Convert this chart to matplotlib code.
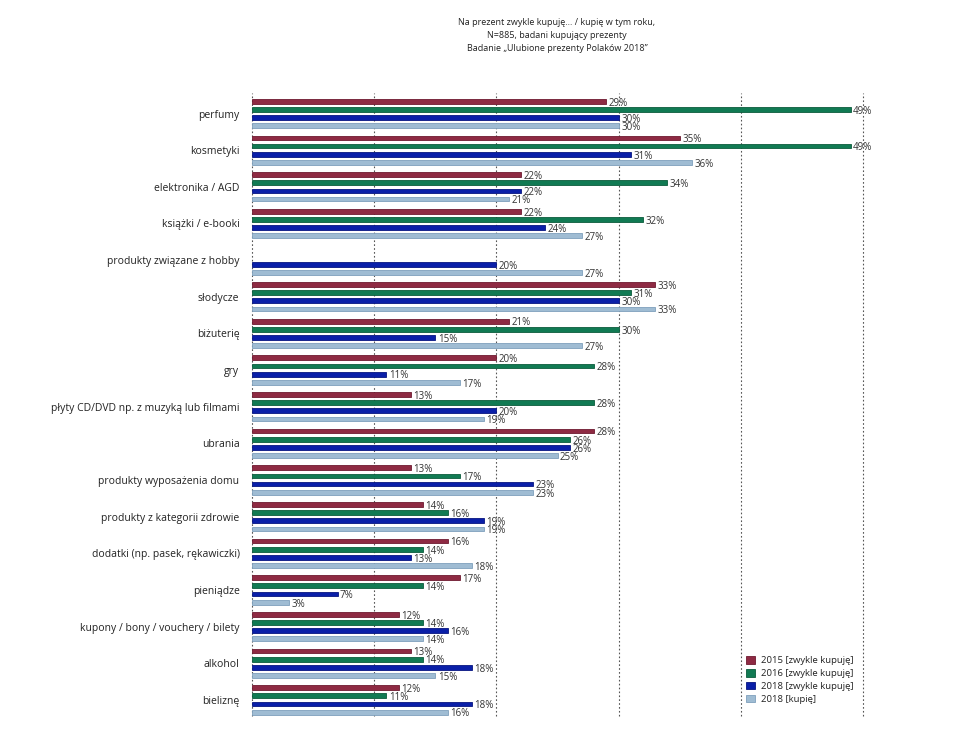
import numpy as np
import matplotlib.pyplot as plt
from matplotlib.patches import Patch

plt.rcParams['font.family'] = ['Open Sans', 'DejaVu Sans']

# Categories (top to bottom)
categories = [
    "perfumy", "kosmetyki", "elektronika / AGD", "książki / e-booki",
    "produkty związane z hobby", "słodycze", "biżuterię", "gry",
    "płyty CD/DVD np. z muzyką lub filmami", "ubrania",
    "produkty wyposażenia domu", "produkty z kategorii zdrowie",
    "dodatki (np. pasek, rękawiczki)", "pieniądze",
    "kupony / bony / vouchery / bilety", "alkohol", "bieliznę",
]

# Values in %, None = no data
v2015 = [29, 35, 22, 22, None, 33, 21, 20, 13, 28, 13, 14, 16, 17, 12, 13, 12]
v2016 = [49, 49, 34, 32, None, 31, 30, 28, 28, 26, 17, 16, 14, 14, 14, 14, 11]
v2018 = [30, 31, 22, 24, 20, 30, 15, 11, 20, 26, 23, 19, 13, 7, 16, 18, 18]
v2018k = [30, 36, 21, 27, 27, 33, 27, 17, 19, 25, 23, 19, 18, 3, 14, 15, 16]

series_names = ["2015 [zwykle kupuję]", "2016 [zwykle kupuję]",
                "2018 [zwykle kupuję]", "2018 [kupię]"]
colors = ["#8e2a43", "#117a53", "#0a1fa8", "#9fbcd3"]
edges = ["#6e1a30", "#0b5c3c", "#071580", "#7fa0bc"]

title = ("Na prezent zwykle kupuję... / kupię w tym roku,\n"
         "N=885, badani kupujący prezenty\n"
         "Badanie \u201eUlubione prezenty Polaków 2018\u201d")

fig = plt.figure(figsize=(9.6, 7.44), dpi=100)
ax = fig.add_axes([252 / 960, 1 - 716 / 744, (863 - 252) / 960, (716 - 93) / 744])

y = np.arange(len(categories))
offsets = [-0.335, -0.112, 0.112, 0.335]
bar_h = 0.13

for vals, off, col, ec in zip([v2015, v2016, v2018, v2018k], offsets, colors, edges):
    for i, v in enumerate(vals):
        if v is None:
            continue
        ax.barh(y[i] + off, v, height=bar_h, color=col, edgecolor=ec, linewidth=0.6, zorder=3)
        ax.text(v + 0.2, y[i] + off + 0.05, f"{v}%", va='center', ha='left',
                fontsize=7, color='#333333', zorder=4)

ax.set_xlim(0, 50)
ax.set_ylim(16.44, -0.56)
ax.set_xticks(np.arange(0, 51, 10))
ax.set_xticklabels([])
ax.tick_params(axis='x', length=0)
ax.set_yticks(y)
ax.set_yticklabels(categories, fontsize=7.5, color='#222222')
ax.tick_params(axis='y', length=0, pad=9)
ax.grid(axis='x', linestyle=(0, (1.5, 2)), color='#555555', linewidth=0.8, zorder=0)
for gl in ax.get_xgridlines():
    gl.set_clip_on(False)
for s in ax.spines.values():
    s.set_visible(False)

handles = [Patch(facecolor=c, edgecolor=e, linewidth=0.6) for c, e in zip(colors, edges)]
leg = ax.legend(handles, series_names, loc='lower right', bbox_to_anchor=(0.998, 0.006),
                frameon=False, fontsize=6.8, handlelength=0.9, handleheight=0.9,
                labelspacing=0.4, handletextpad=0.6)
for t in leg.get_texts():
    t.set_color('#222222')

fig.text(557 / 960, 1 - 18 / 744, title, ha='center', va='top', fontsize=6.5,
         color='#222222', linespacing=1.6)

fig.savefig("out.png", dpi=100, facecolor='white')
